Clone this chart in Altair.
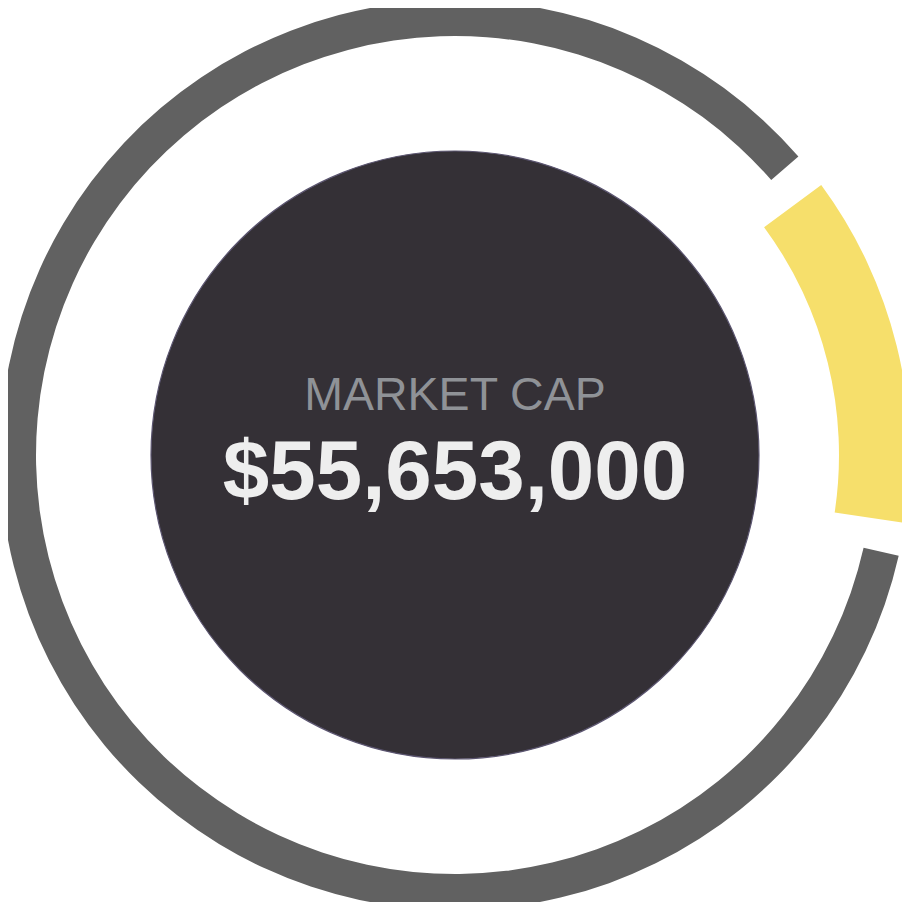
import math
import pandas as pd
import altair as alt

# ring segments, angles in degrees clockwise from 12 o'clock
segments = ["Market cap", "Rest"]
start_deg = [53.6, 102.8]
end_deg = [98.6, 409.0]

title_text = "MARKET CAP"
value_text = "$55,653,000"

ring = pd.DataFrame({"segment": segments, "start": start_deg, "end": end_deg})
labels = pd.DataFrame({"title": [title_text], "value": [value_text]})

theta_scale = alt.Scale(domain=[0, 360], range=[0, 2 * math.pi])
cx, cy = 455, 455

def arc_enc(chart):
    return chart.encode(
        theta=alt.Theta("start:Q", scale=theta_scale),
        theta2="end:Q",
        x=alt.value(cx),
        y=alt.value(cy),
    )

gray = arc_enc(
    alt.Chart(ring)
    .transform_filter(alt.datum.segment == "Rest")
    .mark_arc(radius=455, radius2=419, fill="#616161")
)
yellow = arc_enc(
    alt.Chart(ring)
    .transform_filter(alt.datum.segment == "Market cap")
    .mark_arc(radius=455, radius2=384, fill="#f6df6b")
)

# dark hub behind the labels (vega symbol size = (diameter)^2)
hub_r = 304
center = alt.Chart(labels).mark_circle(
    fill="#343036", stroke="#5b5570", strokeWidth=1.2, opacity=1
).encode(x=alt.value(cx), y=alt.value(cy), size=alt.value((2 * hub_r) ** 2))

title = alt.Chart(labels).mark_text(
    font="Liberation Sans", fontSize=46.5, color="#8f9297", align="center", baseline="alphabetic"
).encode(text="title:N", x=alt.value(cx), y=alt.value(410))

value = alt.Chart(labels).mark_text(
    font="Liberation Sans", fontSize=83.5, fontWeight="bold", color="#eeeeee",
    align="center", baseline="alphabetic"
).encode(text="value:N", x=alt.value(cx), y=alt.value(499))

chart = alt.layer(gray, yellow, center, title, value).properties(
    width=902,
    height=902,
    autosize="none",
    padding={"left": -8, "top": -8, "right": 0, "bottom": 0},
).configure_view(stroke=None)

chart.save("out.html", embed_options={"renderer": "svg", "actions": False})
